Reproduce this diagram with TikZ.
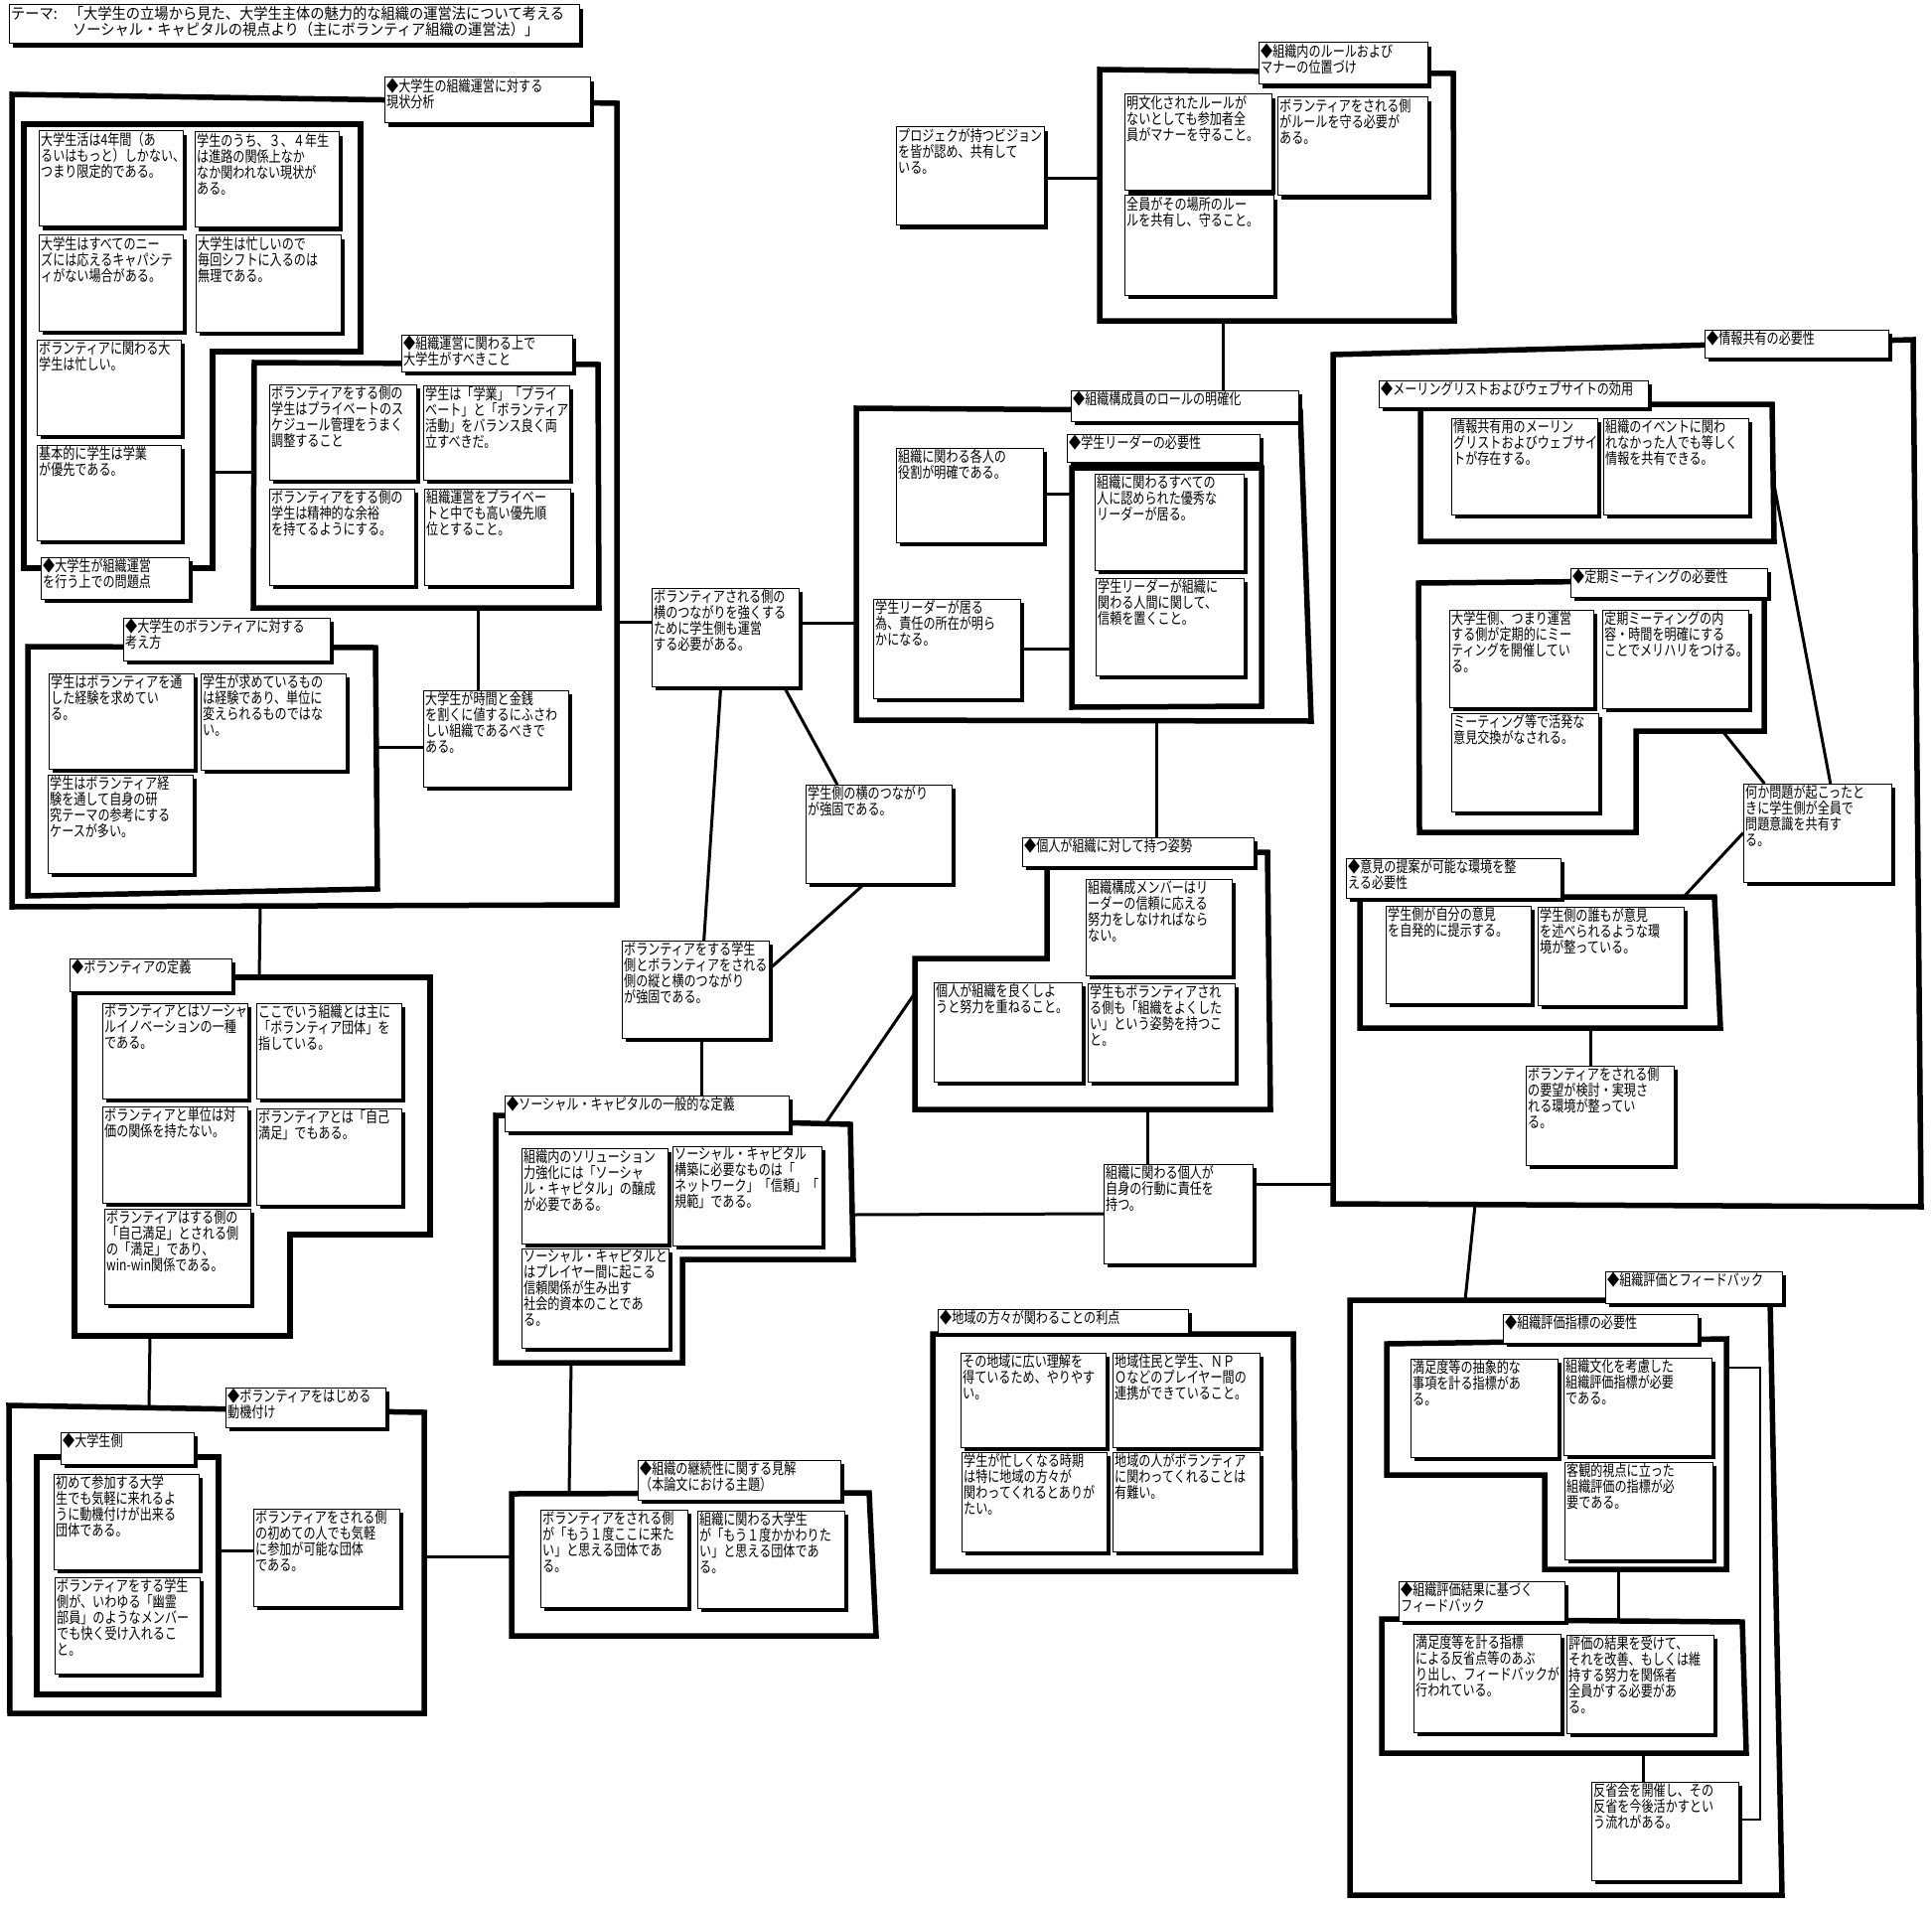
\documentclass[tikz,border=0pt]{standalone}
\usepackage{fontspec}
\setmainfont{Noto Sans CJK JP}[FakeStretch=0.78]
\newfontfamily\titlefont{Noto Sans CJK JP}[FakeStretch=0.92]
\usetikzlibrary{shadows}
\pgfdeclarelayer{bg}
\pgfsetlayers{bg,main}
\tikzset{
  cardbox/.style={draw, line width=1pt, fill=white, anchor=north west, inner sep=0pt, outer sep=0pt,
    drop shadow={shadow xshift=4pt, shadow yshift=-4pt, opacity=1, fill=black}},
  cardtxt/.style={anchor=north west, align=left, inner xsep=2pt, inner ysep=1pt,
    font=\fontsize{15.5}{16}\selectfont},
  frame/.style={line width=5.5pt, line join=miter},
  conn/.style={line width=3pt},
  thinconn/.style={line width=2pt},
}
\newcommand\card[6]{%
  \node[cardbox, minimum width={#4-#2-4}, minimum height={#5-#3-4}] (#1) at (#2,#3) {};
  \node[cardtxt] (#1-t) at (#1.north west) {#6};}
\begin{document}
\begin{tikzpicture}[x=1pt,y=-1pt]
\useasboundingbox (0,0) rectangle (1945,1918);
% ---------- cards ----------
\card{T}{9}{5}{587}{48}{\titlefont テーマ:\hspace{12pt}「大学生の立場から見た、大学生主体の魅力的な組織の運営法について考える\\\titlefont\hspace*{62pt}ソーシャル・キャピタルの視点より（主にボランティア組織の運営法）」}
\card{LA}{387}{78}{598}{128}{◆大学生の組織運営に対する\\現状分析}
\card{B1}{39}{132}{188}{232}{大学生活は4年間（あ\\るいはもっと）しかない、\\つまり限定的である。}
\card{B2}{196}{133}{345}{233}{学生のうち、３、４年生\\は進路の関係上なか\\なか関われない現状が\\ある。}
\card{B3}{39}{237}{188}{337}{大学生はすべてのニー\\ズには応えるキャパシテ\\ィがない場合がある。}
\card{B4}{197}{237}{347}{338}{大学生は忙しいので\\毎回シフトに入るのは\\無理である。}
\card{B5}{37}{342}{186}{442}{ボランティアに関わる大\\学生は忙しい。}
\card{B6}{37}{448}{186}{548}{基本的に学生は学業\\が優先である。}
\card{LB}{41}{561}{194}{607}{◆大学生が組織運営\\を行う上での問題点}
\card{LC}{404}{337}{580}{378}{◆組織運営に関わる上で\\大学生がすべきこと}
\card{C1}{271}{387}{423}{487}{ボランティアをする側の\\学生はプライベートのス\\ケジュール管理をうまく\\調整すること}
\card{C2}{426}{388}{577}{487}{学生は「学業」「プライ\\ベート」と「ボランティア\\活動」をバランス良く両\\立すべきだ。}
\card{C3}{271}{492}{421}{593}{ボランティアをする側の\\学生は精神的な余裕\\を持てるようにする。}
\card{C4}{427}{492}{578}{593}{組織運営をプライベー\\トと中でも高い優先順\\位とすること。}
\card{D}{426}{695}{576}{796}{大学生が時間と金銭\\を割くに値するにふさわ\\しい組織であるべきで\\ある。}
\card{LE}{124}{622}{336}{669}{◆大学生のボランティアに対する\\考え方}
\card{E1}{49}{678}{199}{778}{学生はボランティアを通\\した経験を求めてい\\る。}
\card{E2}{202}{678}{352}{779}{学生が求めているもの\\は経験であり、単位に\\変えられるものではな\\い。}
\card{E3}{48}{780}{198}{883}{学生はボランティア経\\験を通して自身の研\\究テーマの参考にする\\ケースが多い。}
\card{LF}{70}{965}{237}{1002}{◆ボランティアの定義}
\card{F1}{103}{1010}{253}{1110}{ボランティアとはソーシャ\\ルイノベーションの一種\\である。}
\card{F2}{258}{1010}{408}{1110}{ここでいう組織とは主に\\「ボランティア団体」を\\指している。}
\card{F3}{103}{1114}{253}{1215}{ボランティアと単位は対\\価の関係を持たない。}
\card{F4}{258}{1116}{408}{1217}{ボランティアとは「自己\\満足」でもある。}
\card{F5}{105}{1217}{256}{1317}{ボランティアはする側の\\「自己満足」とされる側\\の「満足」であり、\\win-win関係である。}
\card{LG}{227}{1397}{392}{1441}{◆ボランティアをはじめる\\動機付け}
\card{LH}{61}{1442}{199}{1478}{◆大学生側}
\card{H1}{54}{1484}{204}{1584}{初めて参加する大学\\生でも気軽に来れるよ\\うに動機付けが出来る\\団体である。}
\card{H2}{55}{1588}{205}{1689}{ボランティアをする学生\\側が、いわゆる「幽霊\\部員」のようなメンバー\\でも快く受け入れるこ\\と。}
\card{I}{255}{1519}{406}{1621}{ボランティアをされる側\\の初めての人でも気軽\\に参加が可能な団体\\である。}
\card{LJ}{642}{1470}{850}{1514}{◆組織の継続性に関する見解\\（本論文における主題）}
\card{J1}{544}{1520}{696}{1622}{ボランティアをされる側\\が「もう１度ここに来た\\い」と思える団体であ\\る。}
\card{J2}{702}{1521}{854}{1623}{組織に関わる大学生\\が「もう１度かかわりた\\い」と思える団体であ\\る。}
\card{LK}{508}{1103}{798}{1143}{◆ソーシャル・キャピタルの一般的な定義}
\card{Ka}{525}{1156}{676}{1256}{組織内のソリューション\\力強化には「ソーシャ\\ル・キャピタル」の醸成\\が必要である。}
\card{Kb}{677}{1154}{831}{1258}{ソーシャル・キャピタル\\構築に必要なものは「\\ネットワーク」「信頼」「\\規範」である。}
\card{Kc}{525}{1257}{677}{1361}{ソーシャル・キャピタルと\\はプレイヤー間に起こる\\信頼関係が生み出す\\社会的資本のことであ\\る。}
\card{K1}{656}{592}{808}{695}{ボランティアされる側の\\横のつながりを強くする\\ために学生側も運営\\する必要がある。}
\card{K2}{626}{947}{778}{1049}{ボランティアをする学生\\側とボランティアをされる\\側の縦と横のつながり\\が強固である。}
\card{K3}{811}{790}{962}{893}{学生側の横のつながり\\が強固である。}
\card{LL}{1078}{393}{1311}{428}{◆組織構成員のロールの明確化}
\card{LL2}{1074}{437}{1272}{469}{◆学生リーダーの必要性}
\card{La}{902}{451}{1054}{550}{組織に関わる各人の\\役割が明確である。}
\card{Lb}{879}{603}{1031}{707}{学生リーダーが居る\\為、責任の所在が明ら\\かになる。}
\card{L2a}{1102}{477}{1256}{578}{組織に関わるすべての\\人に認められた優秀な\\リーダーが居る。}
\card{L2b}{1103}{582}{1256}{684}{学生リーダーが組織に\\関わる人間に関して、\\信頼を置くこと。}
\card{LN}{1029}{843}{1266}{876}{◆個人が組織に対して持つ姿勢}
\card{Na}{1093}{885}{1244}{986}{組織構成メンバーはリ\\ーダーの信頼に応える\\努力をしなければなら\\ない。}
\card{Nb}{940}{989}{1093}{1093}{個人が組織を良くしよ\\うと努力を重ねること。}
\card{Nc}{1095}{990}{1247}{1093}{学生もボランティアされ\\る側も「組織をよくした\\い」という姿勢を持つこ\\と。}
\card{M}{1111}{1172}{1265}{1276}{組織に関わる個人が\\自身の行動に責任を\\持つ。}
\card{LP}{944}{1318}{1200}{1346}{◆地域の方々が関わることの利点}
\card{Pa}{967}{1362}{1117}{1461}{その地域に広い理解を\\得ているため、やりやす\\い。}
\card{Pb}{1120}{1362}{1272}{1461}{地域住民と学生、ＮＰ\\Ｏなどのプレイヤー間の\\連携ができていること。}
\card{Pc}{968}{1462}{1118}{1566}{学生が忙しくなる時期\\は特に地域の方々が\\関わってくれるとありが\\たい。}
\card{Pd}{1120}{1462}{1272}{1566}{地域の人がボランティア\\に関わってくれることは\\有難い。}
\card{LQ}{1267}{43}{1441}{89}{◆組織内のルールおよび\\マナーの位置づけ}
\card{Qa}{1132}{95}{1284}{196}{明文化されたルールが\\ないとしても参加者全\\員がマナーを守ること。}
\card{Qb}{1286}{98}{1441}{201}{ボランティアをされる側\\がルールを守る必要が\\ある。}
\card{Qc}{1132}{197}{1286}{301}{全員がその場所のルー\\ルを共有し、守ること。}
\card{R}{902}{128}{1055}{231}{プロジェクが持つビジョン\\を皆が認め、共有して\\いる。}
\card{LO}{1716}{332}{1905}{364}{◆情報共有の必要性}
\card{LO1}{1388}{383}{1663}{414}{◆メーリングリストおよびウェブサイトの効用}
\card{O1a}{1461}{421}{1612}{522}{情報共有用のメーリン\\グリストおよびウェブサイ\\トが存在する。}
\card{O1b}{1614}{421}{1764}{522}{組織のイベントに関わ\\れなかった人でも等しく\\情報を共有できる。}
\card{LO2}{1581}{572}{1783}{605}{◆定期ミーティングの必要性}
\card{O2a}{1459}{614}{1608}{716}{大学生側、つまり運営\\する側が定期的にミー\\ティングを開催してい\\る。}
\card{O2b}{1613}{614}{1764}{717}{定期ミーティングの内\\容・時間を明確にする\\ことでメリハリをつける。}
\card{O2c}{1461}{718}{1613}{821}{ミーティング等で活発な\\意見交換がなされる。}
\card{O3}{1755}{789}{1908}{892}{何か問題が起こったと\\きに学生側が全員で\\問題意識を共有す\\る。}
\card{LO4}{1355}{864}{1575}{908}{◆意見の提案が可能な環境を整\\える必要性}
\card{O4a}{1395}{912}{1545}{1014}{学生側が自分の意見\\を自発的に提示する。}
\card{O4b}{1548}{913}{1699}{1016}{学生側の誰もが意見\\を述べられるような環\\境が整っている。}
\card{O5}{1536}{1073}{1689}{1177}{ボランティアをされる側\\の要望が検討・実現さ\\れる環境が整ってい\\る。}
\card{LS}{1616}{1280}{1798}{1316}{◆組織評価とフィードバック}
\card{LS1}{1513}{1323}{1713}{1356}{◆組織評価指標の必要性}
\card{S1a}{1420}{1368}{1572}{1471}{満足度等の抽象的な\\事項を計る指標があ\\る。}
\card{S1b}{1574}{1367}{1727}{1469}{組織文化を考慮した\\組織評価指標が必要\\である。}
\card{S1c}{1575}{1472}{1728}{1574}{客観的視点に立った\\組織評価の指標が必\\要である。}
\card{LS2}{1408}{1592}{1579}{1636}{◆組織評価結果に基づく\\フィードバック}
\card{S2a}{1423}{1645}{1575}{1748}{満足度等を計る指標\\による反省点等のあぶ\\り出し、フィードバックが\\行われている。}
\card{S2b}{1577}{1646}{1729}{1749}{評価の結果を受けて、\\それを改善、もしくは維\\持する努力を関係者\\全員がする必要があ\\る。}
\card{S3}{1602}{1794}{1754}{1897}{反省会を開催し、その\\反省を今後活かすとい\\う流れがある。}
% ---------- coordinates on frames ----------
\coordinate (fB-e) at (214,475); \coordinate (fC-w) at (256,475);
\coordinate (fC-s) at (481,612); \coordinate (fE-e) at (380,752);
\coordinate (fA-e) at (621,626); \coordinate (fA-s) at (262,912);
\coordinate (fF-n) at (261,984); \coordinate (fF-s) at (151,1345);
\coordinate (fG-n) at (150,1417); \coordinate (fH-e) at (220,1561);
\coordinate (fG-e) at (427,1567); \coordinate (fJ-w) at (515,1567);
\coordinate (fK-s) at (575,1372); \coordinate (fJ-n) at (573,1504);
\coordinate (fK-n) at (706,1100); \coordinate (fK-ne) at (831,1131);
\coordinate (fN-w) at (921,1000); \coordinate (fK-e) at (859,1223);
\coordinate (fL-w) at (862,627); \coordinate (fQ-w) at (1107,180);
\coordinate (fQ-s) at (1231,323); \coordinate (fL2-w1) at (1079,497);
\coordinate (fL2-w2) at (1079,653); \coordinate (fL-s) at (1164,725);
\coordinate (fN-s) at (1155,1117); \coordinate (fO-w) at (1342,1192);
\coordinate (fO1-e) at (1786,488); \coordinate (fO2-se) at (1734,736);
\coordinate (fO4-n) at (1695,903); \coordinate (fO4-s) at (1601,1035);
\coordinate (fO-s) at (1485,1213); \coordinate (fS-n) at (1475,1309);
\coordinate (fS1-s) at (1629,1580); \coordinate (fS2-n) at (1629,1630);
\coordinate (fS2-s) at (1654,1765);
\coordinate (fS31) at (1772,1832); \coordinate (fS32) at (1772,1377); \coordinate (fS1-e) at (1738,1377);
\begin{pgfonlayer}{bg}
\fill[white] (0,0) rectangle (1945,1918);
% connectors
\draw[conn] (fB-e) -- (fC-w);
\draw[conn] (fC-s) -- (fC-s |- D.north);
\draw[conn] (fE-e) -- (fE-e -| D.west);
\draw[conn] (fA-e) -- (fA-e -| K1.west);
\draw[conn] (fA-s) -- (fF-n);
\draw[conn] (fF-s) -- (fG-n);
\draw[conn] (fH-e) -- (fH-e -| I.west);
\draw[conn] (fG-e) -- (fJ-w);
\draw[conn] (fK-s) -- (fJ-n);
\draw[conn] (K2.south -| fK-n) -- (LK.north -| fK-n);
\draw[conn] (K2.15) -- (K3.255);
\draw[conn] (K1.320) -- (K3.130);
\draw[conn] (K1.265) -- (K2.80);
\draw[conn] (K1.east |- fL-w) -- (fL-w);
\draw[conn] (R.east |- fQ-w) -- (fQ-w);
\draw[conn] (fQ-s) -- (fQ-s |- LL.north);
\draw[conn] (La.east |- fL2-w1) -- (fL2-w1);
\draw[conn] (Lb.east |- fL2-w2) -- (fL2-w2);
\draw[conn] (fL-s) -- (fL-s |- LN.north);
\draw[conn] (fK-ne) -- (fN-w);
\draw[conn] (fN-s) -- (fN-s |- M.north);
\draw[conn] (fK-e) -- (M.west);
\draw[conn] (M.east |- fO-w) -- (fO-w);
\draw[conn] (fO1-e) -- (O3.75);
\draw[conn] (fO2-se) -- (O3.137);
\draw[conn] (O3.west) -- (fO4-n);
\draw[conn] (fO4-s) -- (fO4-s |- O5.north);
\draw[conn] (fO-s) -- (fS-n);
\draw[conn] (fS1-s) -- (fS2-n);
\draw[conn] (fS2-s) -- (fS2-s |- S3.north);
\draw[thinconn] (S3.east |- fS31) -- (fS31) -- (fS32) -- (fS1-e);
% frames
\draw[frame] (12,95) -- (621,104) -- (621,911) -- (12,913) -- cycle;
\draw[frame] (24,125) -- (363,125) -- (363,354) -- (214,354) -- (214,572) -- (24,572) -- cycle;
\draw[frame] (256,365) -- (602,367) -- (603,612) -- (255,612) -- cycle;
\draw[frame] (28,651) -- (378,652) -- (380,895) -- (28,902) -- cycle;
\draw[frame] (75,984) -- (433,984) -- (433,1243) -- (292,1243) -- (292,1345) -- (75,1345) -- cycle;
\draw[frame] (9,1415) -- (427,1422) -- (427,1725) -- (10,1725) -- cycle;
\draw[frame] (37,1467) -- (220,1467) -- (220,1706) -- (37,1706) -- cycle;
\draw[frame] (515,1504) -- (875,1503) -- (882,1647) -- (515,1647) -- cycle;
\draw[frame] (499,1123) -- (856,1132) -- (859,1268) -- (687,1268) -- (687,1372) -- (499,1372) -- cycle;
\draw[frame] (862,411) -- (1309,414) -- (1320,726) -- (862,725) -- cycle;
\draw[frame] (1079,471) -- (1270,471) -- (1270,711) -- (1079,712) -- cycle;
\draw[frame] (1054,858) -- (1276,858) -- (1279,1117) -- (921,1117) -- (921,965) -- (1054,965) -- cycle;
\draw[frame] (939,1343) -- (1302,1343) -- (1304,1582) -- (939,1582) -- cycle;
\draw[frame] (1107,70) -- (1463,74) -- (1464,323) -- (1107,323) -- cycle;
\draw[frame] (1342,357) -- (1926,342) -- (1934,1215) -- (1342,1212) -- cycle;
\draw[frame] (1430,407) -- (1784,407) -- (1786,545) -- (1430,545) -- cycle;
\draw[frame] (1428,587) -- (1776,584) -- (1776,736) -- (1647,736) -- (1647,838) -- (1429,838) -- cycle;
\draw[frame] (1369,903) -- (1726,903) -- (1732,1035) -- (1369,1035) -- cycle;
\draw[frame] (1359,1309) -- (1782,1309) -- (1794,1908) -- (1359,1908) -- cycle;
\draw[frame] (1396,1353) -- (1738,1348) -- (1738,1580) -- (1555,1580) -- (1555,1485) -- (1396,1485) -- cycle;
\draw[frame] (1391,1630) -- (1754,1633) -- (1758,1765) -- (1391,1765) -- cycle;
\end{pgfonlayer}
\end{tikzpicture}
\end{document}
